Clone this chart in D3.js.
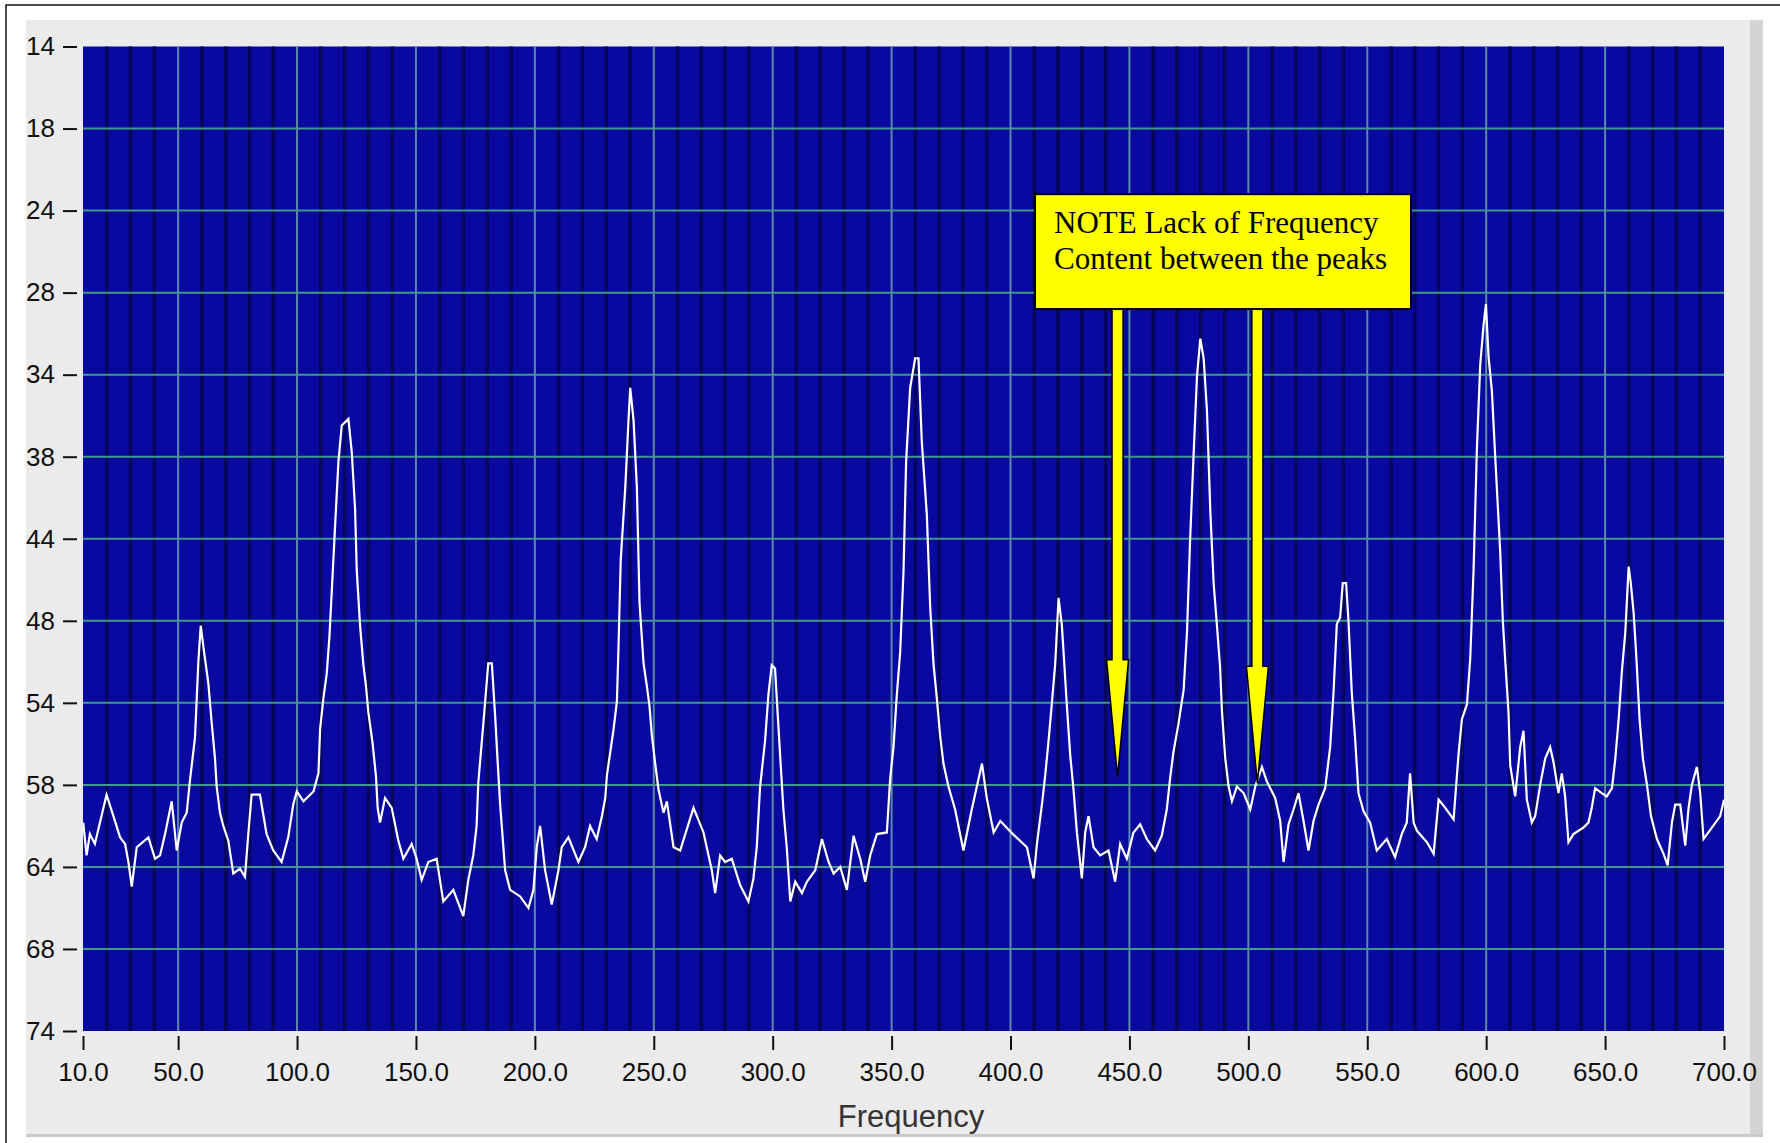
<!DOCTYPE html>
<html>
<head>
<meta charset="utf-8">
<script src="https://cdn.jsdelivr.net/npm/d3@7"></script>
<style>
  html, body { margin: 0; padding: 0; background: #ffffff; }
  svg { display: block; }
</style>
</head>
<body>
<svg id="chart" width="1780" height="1143"></svg>
<script>
// ---- data ----
const xTickValues = [10, 50, 100, 150, 200, 250, 300, 350, 400, 450, 500, 550, 600, 650, 700];
const xTickLabels = ["10.0", "50.0", "100.0", "150.0", "200.0", "250.0", "300.0", "350.0", "400.0", "450.0", "500.0", "550.0", "600.0", "650.0", "700.0"];
const yTickValues = [14, 19, 24, 29, 34, 39, 44, 49, 54, 59, 64, 69, 74];
const yTickLabels = ["14", "18", "24", "28", "34", "38", "44", "48", "54", "58", "64", "68", "74"];
const xAxisTitle = "Frequency";
const noteLines = ["NOTE Lack of Frequency", "Content between the peaks"];
const noteBox = { f0: 410.3, f1: 568.4, v0: 23.0, v1: 30.0 };
const arrowFreqs = [445, 503.8];
const arrowTips = [58.5, 58.9];

const freq = [
  10.1, 11.5, 12.9, 15.0, 19.9, 22.8, 25.6, 27.7, 29.1, 30.5, 32.6, 37.5, 40.3, 42.4, 44.5, 47.3, 49.4, 51.5, 53.6, 55.0,
  57.1, 58.5, 59.5, 60.9, 62.7, 64.1, 65.5, 66.2, 67.6, 69.0, 71.1, 73.2, 76.0, 78.1, 79.5, 80.9, 84.4, 87.2, 90.0, 93.5,
  96.3, 98.4, 99.9, 102.7, 106.9, 109.0, 109.7, 111.1, 112.5, 113.6, 114.6, 116.0, 117.4, 118.8, 121.6, 123.0, 124.4, 125.1, 126.5, 127.9,
  129.0, 130.0, 131.8, 133.2, 133.9, 134.9, 137.0, 139.8, 142.6, 144.7, 148.2, 150.3, 152.4, 155.2, 158.7, 161.5, 165.7, 169.9, 172.0, 174.1,
  175.5, 176.2, 177.6, 179.0, 180.4, 181.9, 183.3, 184.2, 185.4, 187.5, 189.6, 193.8, 197.3, 199.4, 200.8, 202.2, 204.3, 207.1, 209.9, 211.3,
  214.1, 218.3, 221.1, 223.2, 226.0, 228.2, 229.6, 230.3, 231.7, 233.1, 234.5, 235.2, 236.1, 238.0, 239.4, 240.1, 241.5, 242.9, 244.0, 245.7,
  247.1, 248.2, 249.2, 250.6, 252.0, 254.1, 255.5, 258.3, 261.1, 266.7, 270.9, 274.4, 275.8, 277.9, 280.0, 282.8, 286.3, 289.8, 291.9, 293.3,
  294.7, 296.8, 298.2, 299.6, 301.0, 301.7, 303.2, 304.5, 305.9, 307.4, 309.5, 312.3, 314.4, 317.9, 320.7, 323.5, 325.6, 328.4, 331.2, 334.0,
  336.8, 338.9, 341.0, 343.8, 348.0, 349.4, 350.8, 352.2, 353.6, 355.0, 356.1, 357.8, 359.9, 361.3, 362.7, 364.8, 366.2, 367.6, 369.0, 370.4,
  371.8, 373.9, 376.7, 380.2, 383.7, 388.0, 390.0, 392.9, 395.7, 401.0, 406.9, 409.7, 411.1, 413.2, 414.6, 416.0, 417.4, 418.8, 420.2, 421.6,
  422.6, 423.7, 425.1, 426.5, 427.9, 430.0, 431.4, 432.8, 434.9, 437.7, 441.2, 444.0, 446.1, 448.9, 451.7, 454.5, 457.3, 460.8, 463.6, 465.7,
  467.1, 468.5, 470.6, 472.8, 474.2, 475.5, 477.0, 478.4, 479.8, 481.2, 482.6, 484.0, 485.4, 486.8, 488.1, 488.9, 490.3, 491.7, 493.1, 495.2,
  498.0, 500.8, 502.9, 505.7, 507.8, 511.3, 513.4, 514.8, 516.9, 519.0, 521.1, 523.2, 525.3, 527.4, 529.5, 532.3, 534.4, 535.8, 537.2, 538.6,
  539.7, 541.1, 542.1, 543.5, 544.9, 546.3, 548.4, 551.2, 554.0, 558.2, 561.7, 564.5, 566.6, 568.0, 569.5, 570.9, 575.1, 577.9, 580.0, 582.8,
  586.3, 588.4, 589.8, 591.9, 593.3, 594.7, 596.1, 597.5, 598.9, 599.9, 601.0, 602.4, 603.8, 605.9, 607.0, 608.0, 609.4, 610.1, 612.2, 614.3,
  615.7, 617.1, 619.2, 620.6, 622.7, 624.8, 626.9, 628.3, 630.4, 631.8, 633.2, 634.6, 636.7, 640.9, 643.0, 644.4, 645.8, 648.6, 650.7, 652.9,
  654.3, 655.7, 657.1, 658.5, 659.9, 660.8, 662.0, 663.1, 664.5, 665.9, 667.6, 669.3, 671.8, 674.6, 676.3, 678.1, 679.5, 681.6, 683.7, 685.1,
  686.5, 688.6, 690.0, 691.4, 694.9, 698.4, 700.0
];
const level = [
  61.3, 63.3, 62.0, 62.6, 59.6, 60.9, 62.2, 62.6, 63.7, 65.2, 62.8, 62.2, 63.5, 63.3, 62.0, 60.0, 63.0, 61.3, 60.7, 58.7,
  56.1, 51.5, 49.3, 50.9, 52.8, 55.2, 57.4, 59.1, 60.7, 61.5, 62.4, 64.4, 64.1, 64.6, 62.0, 59.6, 59.6, 62.0, 63.0, 63.7,
  62.2, 60.2, 59.4, 60.0, 59.4, 58.3, 55.6, 53.7, 52.2, 50.0, 47.2, 43.2, 39.3, 37.1, 36.7, 38.7, 42.2, 45.9, 49.3, 51.7,
  53.0, 54.6, 56.5, 58.5, 60.4, 61.3, 59.8, 60.4, 62.4, 63.5, 62.6, 63.5, 64.8, 63.7, 63.5, 66.1, 65.4, 67.0, 64.8, 63.3,
  61.5, 58.9, 56.5, 54.1, 51.6, 51.6, 54.8, 57.2, 60.2, 64.2, 65.4, 65.8, 66.5, 65.4, 62.8, 61.5, 64.2, 66.3, 64.2, 62.8,
  62.2, 63.7, 62.8, 61.5, 62.3, 60.9, 59.8, 58.4, 57.0, 55.6, 53.9, 50.4, 45.3, 40.9, 36.7, 34.8, 36.8, 40.9, 47.9, 51.6,
  53.0, 54.2, 56.0, 57.7, 59.3, 60.7, 60.0, 62.8, 63.0, 60.4, 61.9, 64.2, 65.6, 63.3, 63.7, 63.5, 65.1, 66.1, 64.7, 62.8,
  59.1, 56.3, 53.5, 51.7, 51.9, 53.7, 57.4, 60.5, 62.8, 66.1, 64.9, 65.6, 64.9, 64.2, 62.3, 63.7, 64.4, 64.0, 65.4, 62.1,
  63.5, 64.9, 63.3, 62.0, 61.9, 58.6, 56.7, 53.5, 50.9, 46.0, 39.3, 34.8, 33.0, 33.0, 38.1, 42.5, 48.1, 51.6, 53.7, 56.0,
  57.7, 59.1, 60.5, 63.0, 60.5, 57.7, 59.8, 61.9, 61.2, 62.0, 62.8, 64.7, 62.6, 60.2, 58.4, 56.3, 54.0, 51.6, 47.6, 49.3,
  51.6, 54.2, 57.2, 59.3, 61.9, 64.7, 61.9, 60.9, 62.8, 63.3, 63.0, 64.9, 62.6, 63.5, 61.9, 61.4, 62.3, 63.0, 62.1, 60.5,
  58.6, 57.0, 55.3, 53.2, 49.7, 44.1, 38.8, 34.1, 31.8, 33.0, 36.2, 42.3, 46.7, 49.3, 51.8, 54.5, 57.4, 59.1, 60.0, 59.1,
  59.5, 60.5, 59.1, 57.9, 58.8, 59.8, 61.2, 63.7, 61.4, 60.5, 59.5, 61.2, 63.0, 61.2, 60.2, 59.2, 56.7, 53.4, 49.2, 48.8,
  46.7, 46.7, 49.0, 53.4, 56.2, 59.5, 60.6, 61.3, 63.0, 62.3, 63.4, 62.0, 61.3, 58.3, 61.3, 61.8, 62.5, 63.2, 59.9, 60.4,
  61.1, 57.1, 55.0, 54.1, 51.3, 45.9, 38.5, 33.4, 31.0, 29.7, 32.9, 35.0, 39.0, 44.8, 49.0, 51.4, 54.6, 57.8, 59.7, 56.7,
  55.7, 59.9, 61.3, 60.9, 59.0, 57.4, 56.7, 57.6, 59.5, 58.3, 59.7, 62.5, 62.0, 61.6, 61.3, 60.4, 59.2, 59.5, 59.7, 59.2,
  57.4, 55.0, 52.0, 49.7, 45.7, 46.7, 48.5, 51.1, 55.0, 57.4, 59.0, 60.9, 62.3, 63.2, 63.9, 61.3, 60.2, 60.2, 62.7, 60.4,
  59.0, 57.9, 59.5, 62.3, 61.6, 60.9, 59.9
];

// ---- layout ----
const svg = d3.select("#chart");
const plot = { left: 83, right: 1724, top: 46.5, bottom: 1031 };

const x = d3.scaleLinear().domain([10, 700]).range([plot.left, plot.right]);
const y = d3.scaleLinear().domain([14, 74]).range([plot.top, plot.bottom]);

// outer frame and panel
svg.append("rect").attr("x", 6).attr("y", 5).attr("width", 1800).attr("height", 1200)
  .attr("fill", "#ffffff").attr("stroke", "#111").attr("stroke-width", 1.5);
svg.append("rect").attr("x", 1748).attr("y", 20).attr("width", 15).attr("height", 1117)
  .attr("fill", "#d4d4d4");
svg.append("rect").attr("x", 26).attr("y", 20).attr("width", 1724).attr("height", 1115)
  .attr("fill", "#ebebeb");
svg.append("rect").attr("x", 26).attr("y", 1134).attr("width", 1737).attr("height", 3)
  .attr("fill", "#c9c9c9");

// plot background
svg.append("rect").attr("x", plot.left).attr("y", plot.top)
  .attr("width", plot.right - plot.left).attr("height", plot.bottom - plot.top)
  .attr("fill", "#0909a0");

// minor vertical grid (every 10 Hz)
const minor = d3.range(20, 700, 10).filter(v => !xTickValues.includes(v));
svg.append("g").selectAll("line").data(minor).join("line")
  .attr("x1", d => x(d)).attr("x2", d => x(d))
  .attr("y1", plot.top).attr("y2", plot.bottom)
  .attr("stroke", "#06065a").attr("stroke-width", 3.5);

// horizontal major grid
svg.append("g").selectAll("line").data(yTickValues.slice(1, -1)).join("line")
  .attr("x1", plot.left).attr("x2", plot.right)
  .attr("y1", d => y(d)).attr("y2", d => y(d))
  .attr("stroke", "#3f9a8e").attr("stroke-width", 2);

// vertical major grid
svg.append("g").selectAll("line").data(xTickValues.slice(1, -1)).join("line")
  .attr("x1", d => x(d)).attr("x2", d => x(d))
  .attr("y1", plot.top).attr("y2", plot.bottom)
  .attr("stroke", "#5a8aa8").attr("stroke-width", 2);

// clip
svg.append("clipPath").attr("id", "clip").append("rect")
  .attr("x", plot.left).attr("y", plot.top)
  .attr("width", plot.right - plot.left).attr("height", plot.bottom - plot.top);

// data line
const pts = freq.map((f, i) => [f, level[i]]);
svg.append("path").datum(pts)
  .attr("clip-path", "url(#clip)")
  .attr("fill", "none").attr("stroke", "#ffffff").attr("stroke-width", 2.2)
  .attr("stroke-linejoin", "miter")
  .attr("d", d3.line().x(d => x(d[0])).y(d => y(d[1])));

// axes
const xAxis = d3.axisBottom(x).tickValues(xTickValues)
  .tickFormat((d, i) => xTickLabels[i]).tickSize(14).tickPadding(13);
const gx = svg.append("g").attr("transform", `translate(0,${plot.bottom + 5})`).call(xAxis);
gx.select(".domain").remove();
gx.selectAll(".tick line").attr("stroke", "#111").attr("stroke-width", 2);
gx.selectAll(".tick text").attr("fill", "#111")
  .style("font-family", "'Liberation Sans', Arial, sans-serif").style("font-size", "26px");

const yAxis = d3.axisLeft(y).tickValues(yTickValues)
  .tickFormat((d, i) => yTickLabels[i]).tickSize(14).tickPadding(8);
const gy = svg.append("g").attr("transform", `translate(${plot.left - 6},0)`).call(yAxis);
gy.select(".domain").remove();
gy.selectAll(".tick line").attr("stroke", "#111").attr("stroke-width", 2);
gy.selectAll(".tick text").attr("fill", "#111")
  .style("font-family", "'Liberation Sans', Arial, sans-serif").style("font-size", "26px");

svg.append("text").attr("x", 911).attr("y", 1127).attr("text-anchor", "middle")
  .attr("fill", "#333")
  .style("font-family", "'Liberation Sans', Arial, sans-serif").style("font-size", "31px")
  .text(xAxisTitle);

// annotation arrows
const shaftW = 5.5, headW = 11, headLen = 117;
const boxBottom = y(noteBox.v1);
arrowFreqs.forEach((f, i) => {
  const cx = x(f), tip = y(arrowTips[i]), hy = tip - headLen;
  const p = [[cx - shaftW, boxBottom], [cx + shaftW, boxBottom], [cx + shaftW, hy], [cx + headW, hy],
             [cx, tip], [cx - headW, hy], [cx - shaftW, hy]];
  svg.append("polygon").attr("points", p.map(q => q.join(",")).join(" "))
    .attr("fill", "#ffff00").attr("stroke", "#000").attr("stroke-width", 1.5)
    .attr("stroke-linejoin", "miter");
});

// annotation box
svg.append("rect")
  .attr("x", x(noteBox.f0)).attr("y", y(noteBox.v0))
  .attr("width", x(noteBox.f1) - x(noteBox.f0)).attr("height", y(noteBox.v1) - y(noteBox.v0))
  .attr("fill", "#ffff00").attr("stroke", "#000").attr("stroke-width", 2);
svg.append("g").selectAll("text").data(noteLines).join("text")
  .attr("x", x(noteBox.f0) + 19)
  .attr("y", (d, i) => y(noteBox.v0) + 39 + i * 36)
  .attr("fill", "#000")
  .style("font-family", "'Liberation Serif', 'Times New Roman', serif").style("font-size", "31px")
  .text(d => d);
</script>
</body>
</html>
